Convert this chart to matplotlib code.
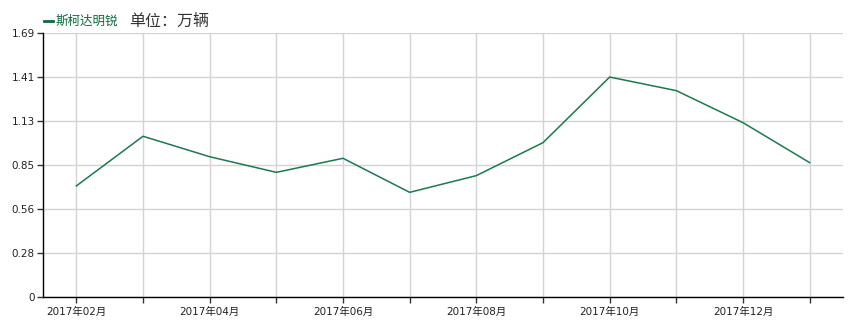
import matplotlib
matplotlib.use("Agg")
import matplotlib.pyplot as plt

plt.rcParams['font.family'] = ['DejaVu Sans', 'Noto Sans CJK SC']

months = ["2017年02月", "2017年03月", "2017年04月", "2017年05月", "2017年06月", "2017年07月",
          "2017年08月", "2017年09月", "2017年10月", "2017年11月", "2017年12月", "2018年01月"]
values = [0.711, 1.029, 0.898, 0.798, 0.888, 0.670, 0.777, 0.988, 1.408, 1.321, 1.116, 0.860]
y_ticks = [0, 0.2817, 0.5633, 0.845, 1.1267, 1.4083, 1.69]
y_tick_labels = ["0", "0.28", "0.56", "0.85", "1.13", "1.41", "1.69"]
series_name = "斯柯达明锐"
unit_text = "单位：万辆"

W, H = 865, 333
fig = plt.figure(figsize=(W / 100, H / 100), dpi=100)
ax = fig.add_axes([43 / W, (H - 297) / H, (843 - 43) / W, (297 - 33) / H])

x = list(range(len(months)))
line_color = "#1b7a4d"
ax.plot(x, values, color=line_color, linewidth=1.1)

ax.set_xlim(-0.5, len(months) - 0.5)
ax.set_ylim(0, 1.69)
ax.set_yticks(y_ticks)
ax.set_yticklabels(y_tick_labels)
ax.set_xticks(x)
ax.set_xticklabels([m if i % 2 == 0 else "" for i, m in enumerate(months)],
                   family=['DejaVu Sans', 'Noto Sans CJK SC'])

ax.grid(True, color="#d4d4d4", linewidth=1)
ax.set_axisbelow(True)
for s in ["top", "right"]:
    ax.spines[s].set_visible(False)
for s in ["left", "bottom"]:
    ax.spines[s].set_color("black")
    ax.spines[s].set_linewidth(1)
ax.tick_params(axis="both", length=4, width=1, color="#333333", labelsize=7.5, labelcolor="#222222")
ax.tick_params(axis="x", pad=3)
ax.tick_params(axis="y", pad=2)

# legend-like header
fig.lines.append(plt.Line2D([44 / W, 53 / W], [(H - 21) / H, (H - 21) / H], color="#0b6b3a",
                            linewidth=2, transform=fig.transFigure))
fig.text(56 / W, (H - 21) / H, series_name, color="#0b6b3a", fontsize=9,
         family=['Noto Sans CJK SC'], va="center", ha="left")
fig.text(129 / W, (H - 21) / H, unit_text, color="#333333", fontsize=11.5,
         family=['Noto Sans CJK SC'], va="center", ha="left")

fig.savefig("out.png", dpi=100)
